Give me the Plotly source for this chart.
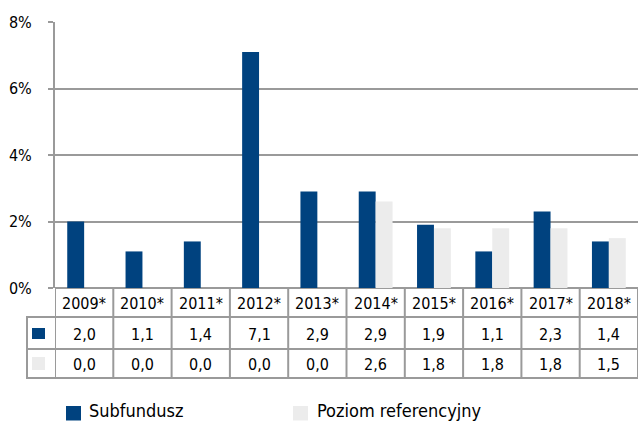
import plotly.graph_objects as go

# ---- data ----
categories = ["2009*", "2010*", "2011*", "2012*", "2013*",
              "2014*", "2015*", "2016*", "2017*", "2018*"]
subfundusz = [2.0, 1.1, 1.4, 7.1, 2.9, 2.9, 1.9, 1.1, 2.3, 1.4]
poziom = [0.0, 0.0, 0.0, 0.0, 0.0, 2.6, 1.8, 1.8, 1.8, 1.5]
series_names = ["Subfundusz", "Poziom referencyjny"]
y_ticks = [0, 2, 4, 6, 8]
y_tick_labels = ["0%", "2%", "4%", "6%", "8%"]

# ---- style ----
W, H = 639, 422
ML, MR, MT, MB = 55, 1, 22, 134
PW = W - ML - MR
PH = H - MT - MB
BLUE = "#00427f"
GREY = "#ececec"
LINE = "#9a9a9a"
FONT = "DejaVu Sans Condensed, DejaVu Sans, sans-serif"
FS = 16


def py(pix):  # pixel y -> paper y
    return (H - MB - pix) / PH


def px(pix):  # pixel x -> paper x
    return (pix - ML) / PW


fig = go.Figure()
fig.add_trace(go.Bar(x=categories, y=subfundusz, name=series_names[0],
                     marker=dict(color=BLUE, line=dict(width=0)),
                     showlegend=False, hoverinfo="skip"))
fig.add_trace(go.Bar(x=categories, y=poziom, name=series_names[1],
                     marker=dict(color=GREY, line=dict(width=0)),
                     showlegend=False, hoverinfo="skip"))


def fmt(v):
    return f"{v:.1f}".replace(".", ",")


# table rows
row_lines = [317, 349, 378]
hdr_c, r1_c, r2_c = (288 + 317) / 2, (317 + 349) / 2, (349 + 378) / 2
shapes = []
annotations = []
n = len(categories)


def cell(x, y, text, xref="x"):
    return dict(x=x, y=py(y), xref=xref, yref="paper", text=text,
                showarrow=False, xanchor="center", yanchor="middle",
                font=dict(size=FS, color="#000"))


for i, cat in enumerate(categories):
    annotations.append(cell(cat, hdr_c + 1, cat))
    annotations.append(cell(cat, r1_c + 1, fmt(subfundusz[i])))
    annotations.append(cell(cat, r2_c + 1, fmt(poziom[i])))

for k in range(n + 1):
    shapes.append(dict(type="line", xref="x", yref="paper",
                       x0=k - 0.5, x1=k - 0.5, y0=0, y1=py(row_lines[-1]),
                       line=dict(color=LINE, width=2)))
for r in row_lines:
    shapes.append(dict(type="line", xref="paper", yref="paper",
                       x0=px(26), x1=1, y0=py(r), y1=py(r),
                       line=dict(color=LINE, width=2)))
shapes.append(dict(type="line", xref="paper", yref="paper",
                   x0=px(27), x1=px(27), y0=py(317), y1=py(378),
                   line=dict(color=LINE, width=2)))
# series keys in table
shapes.append(dict(type="rect", xref="paper", yref="paper",
                   x0=px(32), x1=px(45), y0=py(339), y1=py(328),
                   fillcolor=BLUE, line=dict(width=0)))
shapes.append(dict(type="rect", xref="paper", yref="paper",
                   x0=px(32), x1=px(45), y0=py(370), y1=py(357),
                   fillcolor=GREY, line=dict(width=0)))

# legend (drawn manually below the table)
legend_items = [(66, 90, BLUE), (293, 318, GREY)]
for (sx, tx, col), name in zip(legend_items, series_names):
    shapes.append(dict(type="rect", xref="paper", yref="paper",
                       x0=px(sx), x1=px(sx + 15), y0=py(420.5), y1=py(406),
                       fillcolor=col, line=dict(width=0)))
    annotations.append(dict(x=px(tx), y=py(410), xref="paper", yref="paper",
                            text=name, showarrow=False, xanchor="left",
                            yanchor="middle", xshift=-2, borderpad=0,
                            font=dict(size=18, color="#000")))

fig.update_layout(
    width=W, height=H,
    margin=dict(l=ML, r=MR, t=MT, b=MB, pad=0),
    paper_bgcolor="white", plot_bgcolor="white",
    font=dict(family=FONT, size=FS, color="#000"),
    barmode="group", bargap=0.42, bargroupgap=0,
    hovermode=False,
    xaxis=dict(type="category", categoryorder="array",
               categoryarray=categories, range=[-0.5, n - 0.5],
               showticklabels=False, showgrid=False, zeroline=False,
               showline=False, ticks="", fixedrange=True),
    yaxis=dict(range=[0, 8], tickmode="array", tickvals=y_ticks,
               ticktext=y_tick_labels, fixedrange=True,
               showgrid=True, gridcolor=LINE, gridwidth=2,
               zeroline=True, zerolinecolor=LINE, zerolinewidth=2,
               showline=True, linecolor=LINE, linewidth=2,
               ticks="outside", ticklen=5, tickcolor=LINE, tickwidth=2,
               ticklabelstandoff=13,
               tickfont=dict(size=16, color="#000")),
    showlegend=False,
    shapes=shapes, annotations=annotations,
)

fig.write_html("out.html",
               config={"displayModeBar": False},
               post_script="document.body.style.margin='0';"
                           "document.body.style.overflow='hidden';")
